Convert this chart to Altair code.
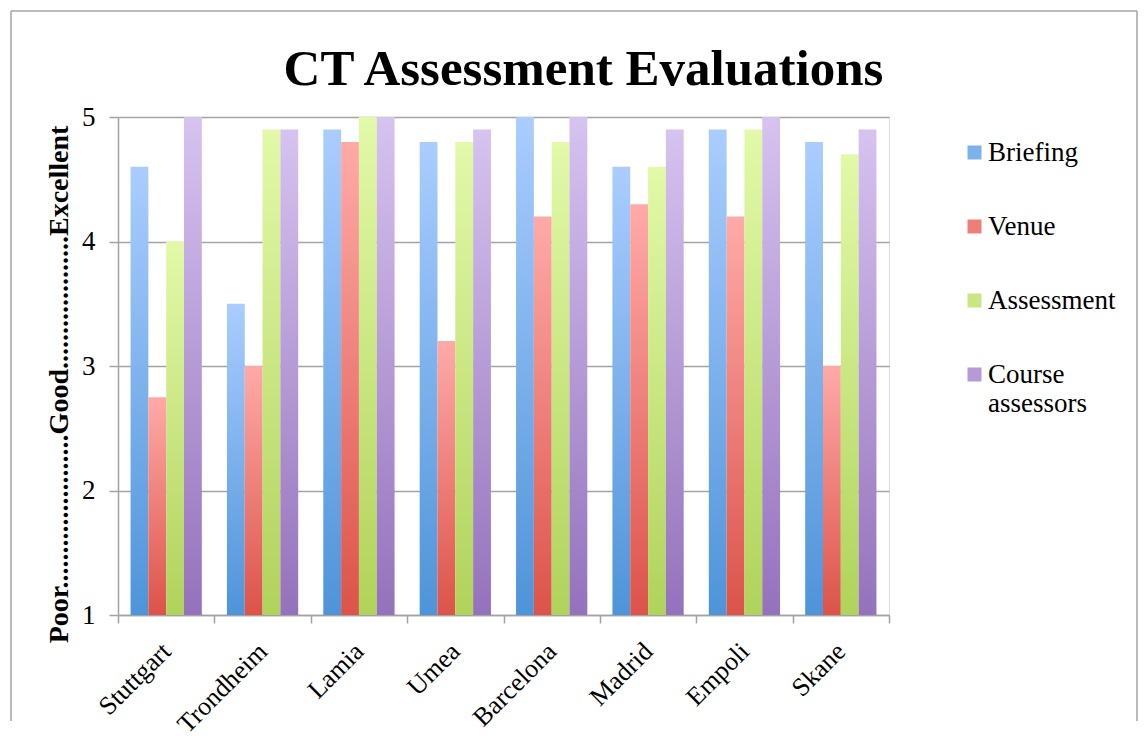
import altair as alt
import pandas as pd

cities = ["Stuttgart", "Trondheim", "Lamia", "Umea", "Barcelona", "Madrid", "Empoli", "Skane"]
series = ["Briefing", "Venue", "Assessment", "Course assessors"]
briefing = [4.6, 3.5, 4.9, 4.8, 5.0, 4.6, 4.9, 4.8]
venue = [2.75, 3.0, 4.8, 3.2, 4.2, 4.3, 4.2, 3.0]
assessment = [4.0, 4.9, 5.0, 4.8, 4.8, 4.6, 4.9, 4.7]
course = [5.0, 4.9, 5.0, 4.9, 5.0, 4.9, 5.0, 4.9]
y_ticks = [1, 2, 3, 4, 5]

top_colors = ["#aacdfe", "#ffaaa8", "#e2f9a9", "#d6c3ef"]
bottom_colors = ["#4e94d9", "#dc5349", "#b0d35b", "#9472bc"]
mid_colors = ["#7cb1ec", "#ee7f78", "#c9e682", "#b59ad6"]

rows = []
for s, vals in zip(series, [briefing, venue, assessment, course]):
    for c, v in zip(cities, vals):
        rows.append({"city": c, "series": s, "value": v})
df = pd.DataFrame(rows)

W, H = 771, 498
FONT = "Liberation Serif"
GRAY = "#a3a3a3"

x_enc = alt.X(
    "city:N",
    sort=cities,
    scale=alt.Scale(paddingInner=0, paddingOuter=0),
    axis=alt.Axis(
        title=None,
        labelAngle=-45,
        labelAlign="right",
        labelBaseline="middle",
        tickBand="extent",
        tickSize=8,
        labelPadding=24,
        labelFontSize=26,
        labelFont=FONT,
        labelColor="black",
        domainColor=GRAY,
        tickColor=GRAY,
        domainWidth=1.5,
        tickWidth=1.5,
        grid=False,
    ),
)
xoff_enc = alt.XOffset(
    "series:N",
    sort=series,
    scale=alt.Scale(domain=series, paddingInner=0, paddingOuter=0.705),
)
y_title = "Poor" + "." * 22 + "Good" + "." * 19 + "Excellent"
y_enc = alt.Y(
    "value:Q",
    scale=alt.Scale(domain=[1, 5], zero=False, nice=False),
    axis=alt.Axis(
        values=y_ticks,
        title=y_title,
        titleFont=FONT,
        titleFontSize=28,
        titleFontWeight="bold",
        titleColor="black",
        titlePadding=8,
        titleY=H / 2 + 18,
        labelFont=FONT,
        labelFontSize=27,
        labelColor="black",
        labelPadding=14,
        tickSize=9,
        tickColor=GRAY,
        domainColor=GRAY,
        gridColor=GRAY,
        tickWidth=1.5,
        domainWidth=1.5,
        gridWidth=1.5,
        grid=True,
    ),
)

base = alt.Chart(df)

legend_layer = base.mark_bar(opacity=0).encode(
    x=x_enc,
    xOffset=xoff_enc,
    y=y_enc,
    y2=alt.datum(1),
    color=alt.Color(
        "series:N",
        sort=series,
        scale=alt.Scale(domain=series, range=mid_colors),
        legend=alt.Legend(
            title=None,
            orient="none",
            legendX=843,
            legendY=22,
            symbolType="square",
            symbolSize=196,
            symbolOpacity=1,
            symbolStrokeWidth=0,
            labelFont=FONT,
            labelFontSize=27,
            labelColor="black",
            labelLimit=300,
            labelOffset=0,
            rowPadding=46,
            labelExpr="datum.label == 'Course assessors' ? ['Course', 'assessors'] : datum.label",
        ),
    ),
)

bar_layers = []
for s, t, b in zip(series, top_colors, bottom_colors):
    grad = alt.Gradient(
        gradient="linear",
        x1=0, y1=0, x2=0, y2=1,
        stops=[alt.GradientStop(color=t, offset=0), alt.GradientStop(color=b, offset=1)],
    )
    bar_layers.append(
        base.transform_filter(alt.datum.series == s)
        .mark_bar(color=grad)
        .encode(x=x_enc, xOffset=xoff_enc, y=y_enc, y2=alt.datum(1))
    )

frame_df = pd.DataFrame({"k": [0]})
frame_base = alt.Chart(frame_df)
frame_left = frame_base.mark_rule(color=GRAY, strokeWidth=1.5).encode(
    x=alt.value(-107), y=alt.value(-106), y2=alt.value(604)
)
frame_top = frame_base.mark_rule(color=GRAY, strokeWidth=1.5).encode(
    x=alt.value(-107), x2=alt.value(1019), y=alt.value(-106)
)
frame_right = frame_base.mark_rule(color=GRAY, strokeWidth=1.5).encode(
    x=alt.value(1019), y=alt.value(-106), y2=alt.value(604)
)

chart = (
    alt.layer(legend_layer, *bar_layers, frame_left, frame_top, frame_right)
    .properties(
        width=W,
        height=H,
        padding={"left": 2, "top": 2, "right": 0, "bottom": 0},
        title=alt.TitleParams(
            "CT Assessment Evaluations",
            font=FONT,
            fontSize=51,
            fontWeight="bold",
            color="black",
            anchor="middle",
            dx=80,
            dy=108,
            offset=22,
        ),
    )
    .configure_view(stroke=None)
    .configure(background="white")
)

chart.save("out.html", embed_options={"renderer": "svg", "actions": False})
